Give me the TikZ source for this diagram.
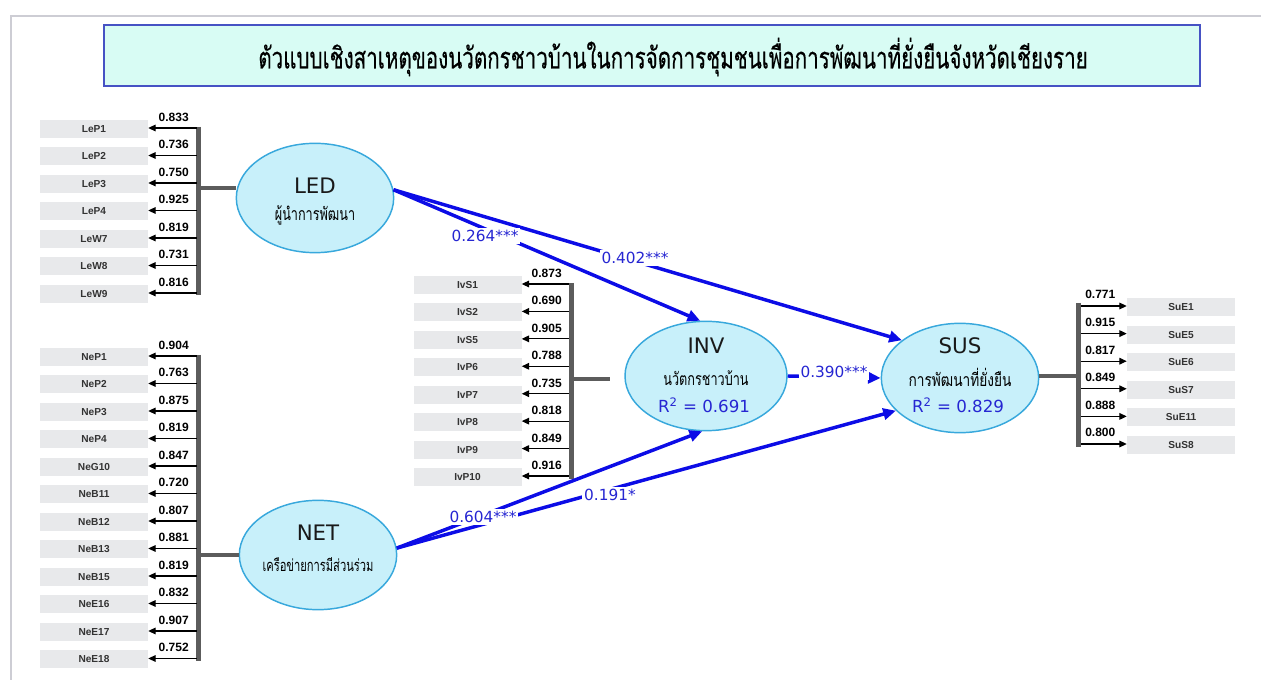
\documentclass[tikz,border=0pt]{standalone}
\usepackage{graphicx}
\usepackage{fontspec}
\setmainfont{Liberation Sans}
\newfontfamily\dvs{DejaVu Sans}
\newfontfamily\thaifont[Script=Thai]{Loma}
\newfontfamily\thaititle[Script=Thai,FakeBold=0.5]{Loma}
\usetikzlibrary{arrows.meta,shapes.geometric}
\definecolor{boxgray}{HTML}{E8E9EB}
\definecolor{bargray}{HTML}{5C5C5C}
\definecolor{ellfill}{HTML}{C8F0FA}
\definecolor{ellborder}{HTML}{38A8DC}
\definecolor{titlefill}{HTML}{D8FCF4}
\definecolor{titleborder}{HTML}{4652C4}
\definecolor{pathblue}{HTML}{0C0CE6}
\definecolor{coefblue}{HTML}{2626D2}
\definecolor{framegray}{HTML}{CDCDD4}
\tikzset{
  ind/.style={fill=boxgray, minimum width=81pt, minimum height=13.5pt, inner sep=0pt,
    font=\fontsize{7.6}{8}\selectfont\bfseries, text=black!80},
  load/.style={font=\fontsize{9}{10}\selectfont\bfseries, inner sep=0pt},
  barline/.style={draw=bargray, line width=3.75pt},
  conn/.style={draw=bargray, line width=2.6pt},
  ldarrow/.style={draw=black, line width=0.8pt, -{Triangle[length=5.5pt,width=5pt]}},
  lv/.style={ellipse, draw=ellborder, fill=ellfill, line width=1.1pt, inner sep=0pt,
    minimum width=118pt, minimum height=82pt},
  lvname/.style={font=\dvs\fontsize{16}{18}\selectfont, text=black!90, inner sep=0pt},
  lvthai/.style={font=\thaifont\fontsize{9.5}{11}\selectfont, text=black, inner sep=0pt},
  rsq/.style={font=\dvs\fontsize{12.5}{14}\selectfont, text=coefblue, inner sep=0pt},
  spath/.style={draw=pathblue, line width=2.6pt, -{Triangle[length=9.5pt,width=8.5pt]}},
  coef/.style={fill=white, text=coefblue, font=\dvs\fontsize{11.5}{12}\selectfont, inner sep=1.5pt}
}
\newcommand{\vth}[1]{\scalebox{1}[1.4]{#1}}
\begin{document}
\begin{tikzpicture}[x=0.75pt,y=-0.75pt]
\useasboundingbox (0,0) rectangle (1261,680);
% frame
\draw[framegray, line width=0.9pt] (1261,16) -- (11,16) -- (11,680);
% title
\node[draw=titleborder, fill=titlefill, line width=1.6pt, minimum width=822pt, minimum height=45.75pt, inner sep=0pt] (title) at (652,55.5) {};
\node (titletext) at (673,57) {\scalebox{1}[1.45]{\resizebox{622pt}{!}{\thaititle ตัวแบบเชิงสาเหตุของนวัตกรชาวบ้านในการจัดการชุมชนเพื่อการพัฒนาที่ยั่งยืนจังหวัดเชียงราย}}};

% latent variables
\node[lv] (LED) at (315,198) {};
\node[lvname] (LEDn) at (315,186) {LED};
\node[lvthai] (LEDt) at (315,215) {\vth{ผู้นำการพัฒนา}};

\node[lv] (NET) at (318,555) {};
\node[lvname] (NETn) at (318,533) {NET};
\node[lvthai] (NETt) at (318,565) {\scalebox{0.88}[1.3]{เครือข่ายการมีส่วนร่วม}};

\node[lv, minimum width=121.5pt] (INV) at (706,376) {};
\node[lvname] (INVn) at (706,346) {INV};
\node[lvthai] (INVt) at (706,378) {\vth{นวัตกรชาวบ้าน}};
\node[rsq] (INVr) at (704,405) {R\textsuperscript{2} = 0.691};

\node[lv] (SUS) at (960,378) {};
\node[lvname] (SUSn) at (960,346) {SUS};
\node[lvthai] (SUSt) at (960,377) {\scalebox{1.08}[1.4]{การพัฒนาที่ยั่งยืน}};
\node[rsq] (SUSr) at (958,405) {R\textsuperscript{2} = 0.829};

% LED indicators
\draw[barline] (198.5,127) -- (198.5,295);
\foreach \n/\v [count=\i from 0] in {LeP1/0.833,LeP2/0.736,LeP3/0.750,LeP4/0.925,LeW7/0.819,LeW8/0.731,LeW9/0.816}{
  \node[ind] (i-\n) at (94,{129+27.5*\i}) {\n};
  \coordinate (b-\n) at (196.5,{128+27.5*\i});
  \draw[ldarrow] (b-\n) -- (b-\n -| i-\n.east);
  \node[load, anchor=base east] (l-\n) at (189,{121.5+27.5*\i}) {\v};
}
\coordinate (jLED) at (198.5,188);
\draw[conn] (jLED) -- (jLED -| LED.west);

% NET indicators
\draw[barline] (198.5,355) -- (198.5,661);
\foreach \n/\v [count=\i from 0] in {NeP1/0.904,NeP2/0.763,NeP3/0.875,NeP4/0.819,NeG10/0.847,NeB11/0.720,NeB12/0.807,NeB13/0.881,NeB15/0.819,NeE16/0.832,NeE17/0.907,NeE18/0.752}{
  \node[ind] (i-\n) at (94,{357+27.5*\i}) {\n};
  \coordinate (b-\n) at (196.5,{356+27.5*\i});
  \draw[ldarrow] (b-\n) -- (b-\n -| i-\n.east);
  \node[load, anchor=base east] (l-\n) at (189,{349.5+27.5*\i}) {\v};
}
\coordinate (jNET) at (198.5,555);
\draw[conn] (jNET) -- (NET.west);

% INV indicators
\draw[barline] (571,283) -- (571,479);
\foreach \n/\v [count=\i from 0] in {IvS1/0.873,IvS2/0.690,IvS5/0.905,IvP6/0.788,IvP7/0.735,IvP8/0.818,IvP9/0.849,IvP10/0.916}{
  \node[ind] (i-\n) at (467.5,{285+27.43*\i}) {\n};
  \coordinate (b-\n) at (569,{284+27.43*\i});
  \draw[ldarrow] (b-\n) -- (b-\n -| i-\n.east);
  \node[load, anchor=base east] (l-\n) at (562,{277.5+27.43*\i}) {\v};
}
\coordinate (jINV) at (571,379);
\coordinate (eINV) at (610,379);
\draw[conn] (jINV) -- (eINV);

% SUS indicators
\draw[barline] (1078.5,303) -- (1078.5,447);
\foreach \n/\v [count=\i from 0] in {SuE1/0.771,SuE5/0.915,SuE6/0.817,SuS7/0.849,SuE11/0.888,SuS8/0.800}{
  \node[ind] (i-\n) at (1181,{307+27.6*\i}) {\n};
  \coordinate (b-\n) at (1081,{306+27.6*\i});
  \draw[ldarrow] (b-\n) -- (b-\n -| i-\n.west);
  \node[load, anchor=base west] (l-\n) at (1085,{299+27.6*\i}) {\v};
}
\coordinate (jSUS) at (1078.5,376);
\draw[conn] (SUS.east |- jSUS) -- (jSUS);

% structural paths
\draw[spath] (LED.6) -- (INV.96);
\draw[spath] (LED.6) -- (SUS.147);
\draw[spath] (INV.east) -- (SUS.west);
\draw[spath] (NET.5) -- (INV.266);
\draw[spath] (NET.5) -- (SUS.207);

\node[coef] (c1) at (485,236) {0.264***};
\node[coef] (c2) at (635,258) {0.402***};
\node[coef] (c3) at (834,372) {0.390***};
\node[coef] (c4) at (483,517) {0.604***};
\node[coef] (c5) at (610,495) {0.191*};
\end{tikzpicture}
\end{document}
